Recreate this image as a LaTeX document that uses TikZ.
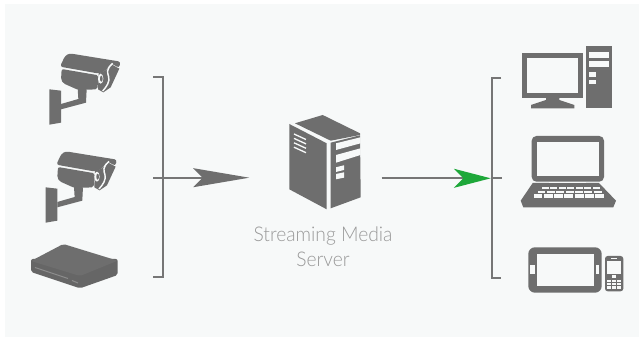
\documentclass[tikz,border=0pt]{standalone}
\usepackage{fontspec}
\usetikzlibrary{arrows.meta}
\newfontfamily\lblfont[UprightFont=* Light,FakeStretch=0.95]{Lato}
\definecolor{panelbg}{HTML}{F7F9F9}
\definecolor{icon}{HTML}{6E6E6E}
\definecolor{icondark}{HTML}{666666}
\definecolor{wire}{HTML}{767676}
\definecolor{lbl}{HTML}{999999}
\definecolor{flow}{HTML}{1EA83A}
\tikzset{
  icon fill/.style={fill=icon,draw=none},
  cut/.style={fill=panelbg,draw=none},
  wireline/.style={draw=wire,line width=1.5pt},
  zoomed/.style={x=0.25pt,y=-0.25pt},
}
\newcommand{\cameraicon}{%
  \fill[icon fill,rounded corners=2pt] (118,70)--(272,95)--(267,114)--(244,100)--(226,122)--(208,131)--(90,110)--(105,78)--cycle;
  \fill[icon fill,rounded corners=1.5pt] (95,117)--(206,136)--(202,178)--(145,180)--(100,160)--(93,150)--cycle;
  \fill[icon fill] (143,175)--(170,178)--(168,218)--(93,238)--(93,222)--(145,207)--cycle;
  \fill[icon fill] (58,178)--(93,182)--(93,278)--(58,284)--cycle;
  \fill[icon fill] (246,104)--(268,116)--(242,172)--(220,187)--(204,178)--(206,130)--(225,122)--cycle;
  \draw[panelbg,line width=1.1pt] (248,100) .. controls (228,118) and (232,128) .. (236,140) .. controls (240,155) and (230,170) .. (218,183);
  \fill[cut] (212,146) ellipse (8 and 15);
  \fill[icon] (214,146) ellipse (4 and 9);
}
\begin{document}
\begin{tikzpicture}[x=0.75pt,y=-0.75pt]
\useasboundingbox (0,0) rectangle (644,338);
\fill[white] (0,0) rectangle (644,338);
\fill[panelbg] (5,4) rectangle (639,337);

% cameras
\begin{scope}[shift={(30,30)},zoomed]\cameraicon\end{scope}
\begin{scope}[shift={(26.3,128)},zoomed]\cameraicon\end{scope}

% recorder
\fill[icondark,rounded corners=1.5pt] (31,259)--(117.7,259)--(117.7,275)--(80,288.3)--(31,272)--cycle;
\fill[icon,rounded corners=1.5pt] (31,261)--(63.3,244)--(117.7,260.7)--(80,276)--cycle;
\draw[icon!80!white,line width=.8pt] (35,267.5)--(68,278.5);
\draw[icon!80!white,line width=.8pt] (72,280.5)--(78,283);

% server
\fill[icon fill] (295,123.3)--(322.7,115)--(360,133.3)--(360,135)--(330.7,140.7)--cycle;
\fill[icon fill] (289.3,124)--(326.7,143.3)--(326.7,209.3)--(289.3,189.3)--cycle;
\fill[icon fill] (330.7,142.7)--(360,135.3)--(360.7,197.3)--(330.7,208.3)--cycle;
\fill[cut] (336,143.3)--(360.5,137.3)--(360.5,143.3)--(336,150)--cycle;
\fill[cut] (336,155)--(360.5,148.3)--(360.5,155)--(336,162.7)--cycle;
\fill[cut] (336,167.3)--(344,165.3)--(344,170)--(336,172)--cycle;
\fill[cut] (336,174)--(344,172.3)--(344,177.7)--(336,179.3)--cycle;
\foreach \i in {0,1,2,3}
  \draw[panelbg,line width=1pt] (294,{134+4.4*\i})--(306,{139.5+4.4*\i});

\node[font=\lblfont\fontsize{15.2pt}{18pt}\selectfont,text=lbl,align=center,inner sep=0pt] (label) at (323,247) {Streaming Media\\[1pt]Server};

% desktop
\fill[icon fill] (522.3,53.3) rectangle (583,98.3);
\fill[cut] (527.3,58.3) rectangle (578.3,93.3);
\fill[icon fill] (546,98)--(559.3,98)--(559.3,100)--(574.3,105)--(574.3,108.3)--(531,108.3)--(531,105)--(546,100)--cycle;
\fill[icon fill] (586.3,46) rectangle (611.7,108);
\fill[cut] (589.3,51.7) rectangle (608.7,57.7);
\fill[cut] (589.3,61) rectangle (608.7,67);
\fill[cut] (589.3,72) rectangle (596,77);
\fill[cut] (589.3,79.7) rectangle (596,84.3);

% laptop
\fill[icon fill,rounded corners=3.5pt] (531.7,136) rectangle (604,181.7);
\fill[cut] (537,141.7) rectangle (598.7,176.3);
\fill[icon fill] (532.7,183)--(599,183)--(616,200.7)--(613.3,207.3)--(523.3,207.3)--(520.7,200.7)--cycle;
\fill[cut] (549,181.6) rectangle (586,183);
\foreach \y/\h/\xl/\xr in {186.7/2.4/541.5/600.5,190.6/2.6/537/602.5,194.5/3.2/533/605}{
  \foreach \k in {0,...,6}
    \fill[cut] ({\xl+(\xr-\xl)*\k/7+0.5},\y) rectangle ({\xl+(\xr-\xl)*(\k+1)/7-0.9},\y+\h);
}

% tablet
\fill[icon fill,rounded corners=5pt] (528.3,247.3) rectangle (601.7,292.7);
\fill[cut] (537,254.3) rectangle (593.7,285.7);
\fill[cut] (530,265) rectangle (535.3,274);
\fill[cut] (596,265) rectangle (599,274);

% phone
\fill[icon fill,rounded corners=2pt] (605,256) rectangle (623.3,291.3);
\fill[cut] (610.7,257.7) rectangle (617.3,259.3);
\fill[cut] (607.3,261.3) rectangle (621,274.3);
\fill[cut] (611.7,274.8) rectangle (616,278.3);
\foreach \y in {279.7,283,286.3}
  \foreach \x in {607.3,612,616.7}
    \fill[cut] (\x,\y) rectangle (\x+4,\y+2.4);

% connectors
\coordinate (inTopEnd) at (153.3,77.3);
\coordinate (inTop) at (163,77.3);
\coordinate (inBottom) at (163,277.5);
\coordinate (inBottomEnd) at (153.3,277.5);
\coordinate (inStart) at (153.3,177.7);
\coordinate (inTip) at (249.3,177.7);
\coordinate (outStart) at (381.7,178.3);
\coordinate (outTip) at (490.7,178.3);
\coordinate (outEnd) at (501.7,178.3);
\coordinate (outTopEnd) at (501,77.7);
\coordinate (outTop) at (491.7,77.7);
\coordinate (outBottom) at (491.7,278.3);
\coordinate (outBottomEnd) at (501,278.3);

\draw[wireline] (inTopEnd)--(inTop)--(inBottom)--(inBottomEnd);
\draw[wireline] (outTopEnd)--(outTop)--(outBottom)--(outBottomEnd);
\draw[wireline,-{Stealth[length=42pt,width=14.2pt,inset=7pt,color=icon]}] (inStart)--(inTip);
\draw[wireline] (outTip)--(outEnd);
\draw[wireline,-{Stealth[length=27.5pt,width=14.2pt,inset=7pt,color=flow]}] (outStart)--(outTip);
\end{tikzpicture}
\end{document}
